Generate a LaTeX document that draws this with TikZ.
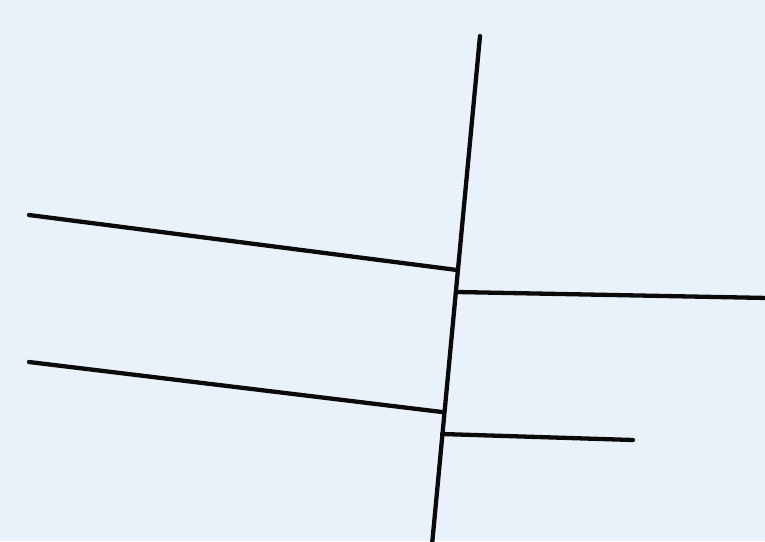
\documentclass[tikz,border=0pt]{standalone}
\usepackage{tikz}
\definecolor{skyBg}{RGB}{233,242,251}
\definecolor{stickDark}{RGB}{10,10,10}

\begin{document}
\begin{tikzpicture}[x=1pt,y=-1pt,
      stick/.style={draw=stickDark,line width=4.3pt,line cap=round}]
    \fill[skyBg] (0,0) rectangle (765,541);
    \useasboundingbox (0,0) rectangle (765,541);
    % main stem
    \coordinate (top) at (480,36);
    \coordinate (bot) at (432,545);
    \coordinate (j1) at (457,270);
    \coordinate (j2) at (457,292);
    \coordinate (j3) at (442,412);
    \coordinate (j4) at (442,434);
    % branch ends
    \coordinate (ul) at (29,215);
    \coordinate (ur) at (768,298);
    \coordinate (ll) at (29,362);
    \coordinate (lr) at (633,440);
    \draw[stick] (top) -- (bot);
    \draw[stick] (ul) -- (j1);
    \draw[stick] (j2) -- (ur);
    \draw[stick] (ll) -- (j3);
    \draw[stick] (j4) -- (lr);
\end{tikzpicture}
\end{document}
